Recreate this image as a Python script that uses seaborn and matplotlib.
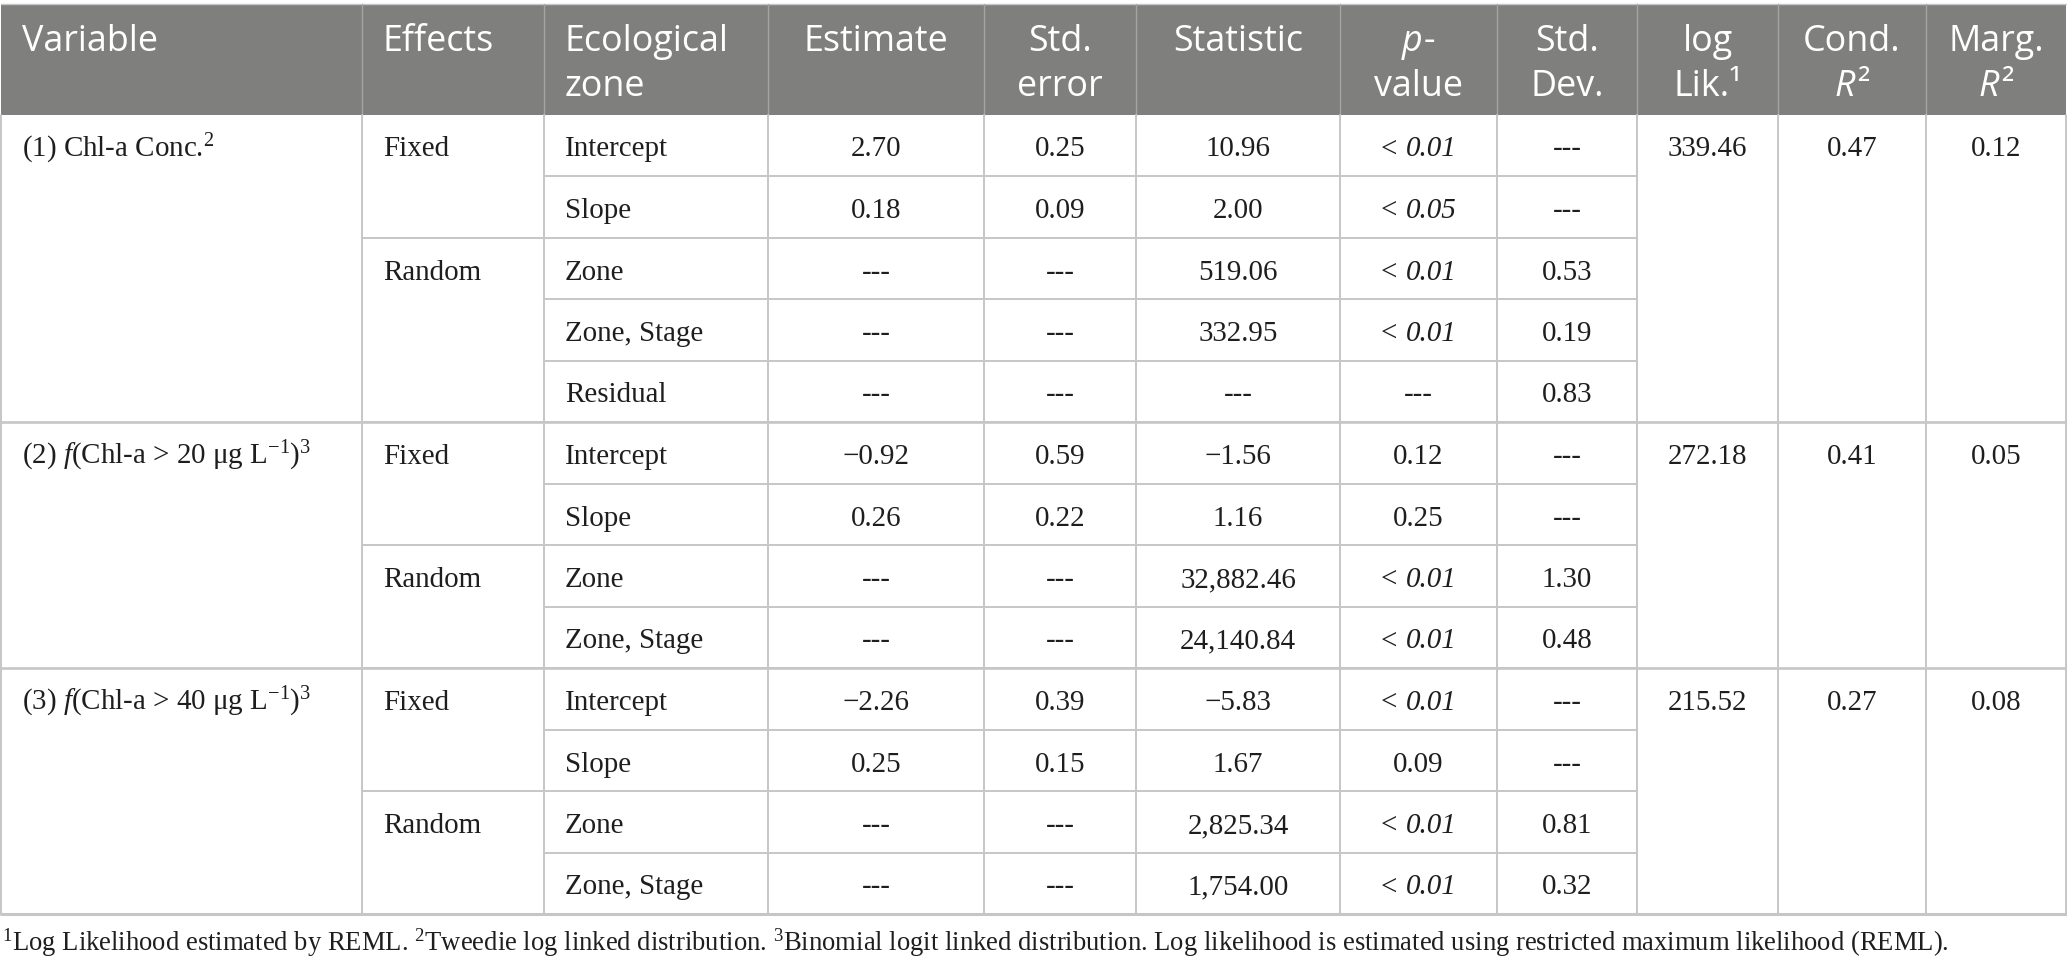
import matplotlib
matplotlib.use("Agg")
import matplotlib.pyplot as plt
from matplotlib.patches import Rectangle
import seaborn as sns

sns.set_theme(style="white")
plt.rcParams["font.family"] = ["Liberation Serif", "DejaVu Serif"]
plt.rcParams["mathtext.fontset"] = "custom"
plt.rcParams["mathtext.rm"] = "Liberation Serif"
plt.rcParams["mathtext.it"] = "Liberation Serif:italic"
plt.rcParams["mathtext.bf"] = "Liberation Serif:bold"

# ---------------- data ----------------
# header lines; each line is a list of (text, italic) runs
header_lines = [[[("Variable", False)]],
                [[("Effects", False)]],
                [[("Ecological", False)], [("zone", False)]],
                [[("Estimate", False)]],
                [[("Std.", False)], [("error", False)]],
                [[("Statistic", False)]],
                [[("p", True), ("-", False)], [("value", False)]],
                [[("Std.", False)], [("Dev.", False)]],
                [[("log", False)], [("Lik.¹", False)]],
                [[("Cond.", False)], [("R", True), ("²", False)]],
                [[("Marg.", False)], [("R", True), ("²", False)]]]

var_labels = [r"(1) Chl-a Conc.$^{2}$",
              r"(2) $f$(Chl-a > 20 μg L$^{-1}$)$^{3}$",
              r"(3) $f$(Chl-a > 40 μg L$^{-1}$)$^{3}$"]
group_sizes = [5, 4, 4]

effects = ["Fixed", "Random", "Fixed", "Random", "Fixed", "Random"]
effect_sizes = [2, 3, 2, 2, 2, 2]

zones = ["Intercept", "Slope", "Zone", "Zone, Stage", "Residual",
         "Intercept", "Slope", "Zone", "Zone, Stage",
         "Intercept", "Slope", "Zone", "Zone, Stage"]
estimate = ["2.70", "0.18", "---", "---", "---",
            "−0.92", "0.26", "---", "---",
            "−2.26", "0.25", "---", "---"]
std_error = ["0.25", "0.09", "---", "---", "---",
             "0.59", "0.22", "---", "---",
             "0.39", "0.15", "---", "---"]
statistic = ["10.96", "2.00", "519.06", "332.95", "---",
             "−1.56", "1.16", "32,882.46", "24,140.84",
             "−5.83", "1.67", "2,825.34", "1,754.00"]
p_value = ["< 0.01", "< 0.05", "< 0.01", "< 0.01", "---",
           "0.12", "0.25", "< 0.01", "< 0.01",
           "< 0.01", "0.09", "< 0.01", "< 0.01"]
std_dev = ["---", "---", "0.53", "0.19", "0.83",
           "---", "---", "1.30", "0.48",
           "---", "---", "0.81", "0.32"]
log_lik = ["339.46", "272.18", "215.52"]
cond_r2 = ["0.47", "0.41", "0.27"]
marg_r2 = ["0.12", "0.05", "0.08"]

footnote = (r"$^{1}$Log Likelihood estimated by REML. $^{2}$Tweedie log linked distribution. "
            r"$^{3}$Binomial logit linked distribution. Log likelihood is estimated using "
            r"restricted maximum likelihood (REML).")

# ---------------- layout ----------------
W, H = 2067, 966
fig = plt.figure(figsize=(W / 100, H / 100), dpi=100)
ax = fig.add_axes([0, 0, 1, 1])
ax.set_xlim(0, W)
ax.set_ylim(H, 0)
ax.axis("off")
renderer = fig.canvas.get_renderer()

col_x = [1, 362, 544, 768, 984, 1136, 1340, 1497, 1637, 1778, 1926, 2066]
header_top, header_bot = 4, 114.5
n_rows = len(zones)
row_h = 61.5
row_top = [header_bot + k * row_h for k in range(n_rows + 1)]
pad = 21
base_off = 42

HEAD_BG = "#7f807e"
HEAD_SEP = "#a4a5a3"
GRID = "#c6c6c6"
TXT = "#1e1e1e"


def text_width(s, **kw):
    t = ax.text(0, 0, s, **kw)
    w = t.get_window_extent(renderer).width
    t.remove()
    return w


def fit_size(text, target, **kw):
    return 20 * target / text_width(text, fontsize=20, **kw)


head_fs = fit_size("Variable", 136, family="Open Sans")
body_fs = fit_size("Intercept", 103, family="Liberation Serif")
foot_fs = fit_size(footnote, 1945, family="Liberation Serif")


def draw_runs(x, y, runs, ha, family, size, color, gap=0.0):
    """Draw a sequence of (text, italic) runs on one baseline."""
    widths = [text_width(s, family=family, fontsize=size,
                         style="italic" if it else "normal") for s, it in runs]
    total = sum(widths) + gap * (len(runs) - 1)
    cx = x - total / 2 if ha == "center" else x
    for (s, it), w in zip(runs, widths):
        ax.text(cx, y, s, family=family, fontsize=size, color=color,
                style="italic" if it else "normal", ha="left", va="baseline")
        cx += w + gap


# header band
ax.add_patch(Rectangle((col_x[0], header_top), col_x[-1] - col_x[0],
                       header_bot - header_top, facecolor=HEAD_BG, edgecolor="none"))
ax.plot([col_x[0], col_x[-1]], [header_top, header_top], color=GRID, lw=1.0)
for x in col_x[1:-1]:
    ax.plot([x, x], [header_top, header_bot], color=HEAD_SEP, lw=1.0)

# header text
head_base = [51, 96]
for ci, lines in enumerate(header_lines):
    left = ci < 3
    x = col_x[ci] + pad if left else (col_x[ci] + col_x[ci + 1]) / 2
    for li, runs in enumerate(lines):
        draw_runs(x, head_base[li], runs, "left" if left else "center",
                  "Open Sans", head_fs, "white", gap=1.5)

# vertical body lines
for x in col_x:
    ax.plot([x, x], [header_bot, row_top[-1]], color=GRID, lw=1.4)

# horizontal lines
group_bounds = [0]
for g in group_sizes:
    group_bounds.append(group_bounds[-1] + g)
eff_bounds = [0]
for e in effect_sizes:
    eff_bounds.append(eff_bounds[-1] + e)

for k in range(1, n_rows):
    ax.plot([col_x[2], col_x[8]], [row_top[k]] * 2, color=GRID, lw=1.4)
for k in eff_bounds[1:-1]:
    ax.plot([col_x[1], col_x[2]], [row_top[k]] * 2, color=GRID, lw=1.4)
for k in group_bounds[1:-1]:
    ax.plot([col_x[0], col_x[-1]], [row_top[k]] * 2, color=GRID, lw=1.9)
ax.plot([col_x[0], col_x[-1]], [row_top[-1]] * 2, color=GRID, lw=2.2)


def body_text(x, y, s, ha="center"):
    ax.text(x, y, s, fontsize=body_fs, color=TXT, ha=ha, va="baseline",
            family="Liberation Serif")


space_w = (text_width("a a", family="Liberation Serif", fontsize=body_fs)
           - text_width("aa", family="Liberation Serif", fontsize=body_fs))

# group-level cells
for gi, k in enumerate(group_bounds[:-1]):
    y = row_top[k] + base_off
    body_text(col_x[0] + pad, y, var_labels[gi], ha="left")
    body_text((col_x[8] + col_x[9]) / 2, y, log_lik[gi])
    body_text((col_x[9] + col_x[10]) / 2, y, cond_r2[gi])
    body_text((col_x[10] + col_x[11]) / 2, y, marg_r2[gi])

for ei, k in enumerate(eff_bounds[:-1]):
    body_text(col_x[1] + pad, row_top[k] + base_off, effects[ei], ha="left")

row_cols = [estimate, std_error, statistic, None, std_dev]
for r in range(n_rows):
    y = row_top[r] + base_off
    body_text(col_x[2] + pad, y, zones[r], ha="left")
    for j, col in enumerate(row_cols):
        c = 3 + j
        cx = (col_x[c] + col_x[c + 1]) / 2
        if col is None:
            p = p_value[r]
            if p.startswith("<"):
                draw_runs(cx, y, [("<", False), (p[2:], True)], "center",
                          "Liberation Serif", body_fs, TXT, gap=space_w + 2)
            else:
                body_text(cx, y, p)
        else:
            body_text(cx, y, col[r])

ax.text(2, 951, footnote, fontsize=foot_fs, color=TXT, ha="left", va="baseline",
        family="Liberation Serif")

fig.savefig("out.png", dpi=100, facecolor="white")
